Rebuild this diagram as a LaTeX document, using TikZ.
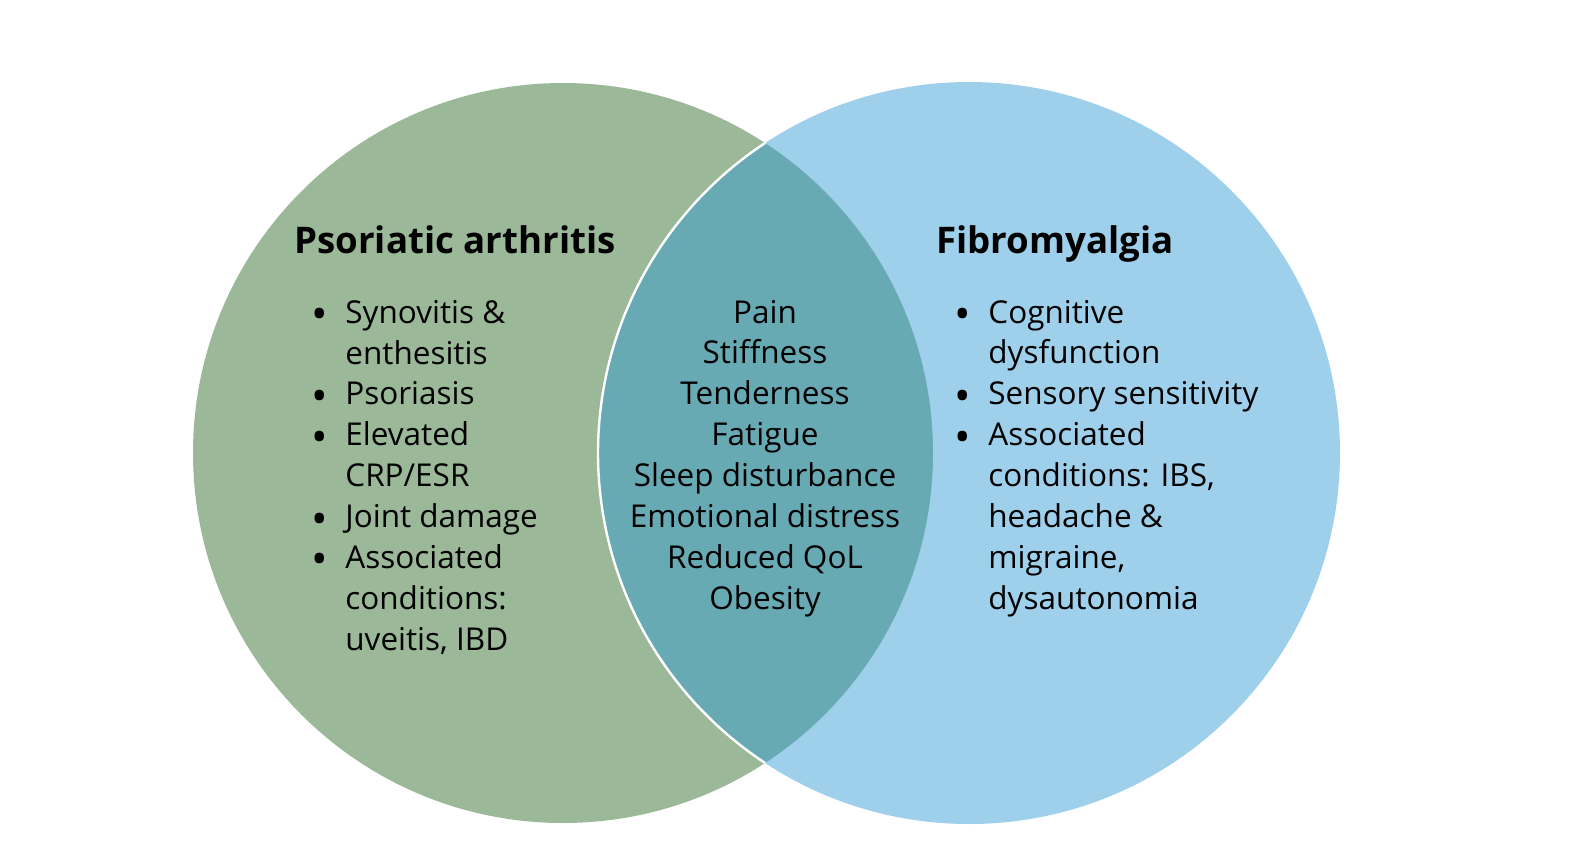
\documentclass[tikz,border=0pt]{standalone}
\usepackage{fontspec}
\setmainfont{Open Sans}
\usepackage{tikz}
\definecolor{psagreen}{HTML}{9BB898}
\definecolor{fmblue}{HTML}{9FD0EB}
\definecolor{lensteal}{HTML}{67AAB4}
\tikzset{
  heading/.style={anchor=base west, inner sep=0pt, font=\fontsize{18.4}{21}\selectfont\bfseries},
  listtext/.style={anchor=base west, inner sep=0pt, align=left, font=\fontsize{15.8}{20.5}\selectfont},
  midtext/.style={anchor=base, inner sep=0pt, align=center, font=\fontsize{15.8}{20.5}\selectfont}
}
\newcommand{\bul}{\llap{\raisebox{-3.3pt}{\fontsize{22}{0}\selectfont\textbullet}\hspace{8.8pt}}}
\begin{document}
\begin{tikzpicture}[x=0.5bp,y=-0.5bp]
\useasboundingbox (0,0) rectangle (1575,861);
% circles
\fill[psagreen] (563,453) circle (370);
\fill[fmblue] (969,453) circle (371);
\begin{scope}
\clip (563,453) circle (370);
\fill[lensteal] (969,453) circle (371);
\draw[white, line width=1.2pt] (969,453) circle (371);
\end{scope}
% headings
\node[heading] (psa) at (294,253) {Psoriatic arthritis};
\node[heading] (fm) at (936,253) {Fibromyalgia};
% lists (anchored at the baseline of the last line)
\node[listtext] (psalist) at (345,650) {\bul Synovitis \&\\ enthesitis\\ \bul Psoriasis\\ \bul Elevated\\ CRP/ESR\\ \bul Joint damage\\ \bul Associated\\ conditions:\\ uveitis, IBD};
\node[midtext] (shared) at (765,609) {Pain\\ Stiffness\\ Tenderness\\ Fatigue\\ Sleep disturbance\\ Emotional distress\\ Reduced QoL\\ Obesity};
\node[listtext] (fmlist) at (988,609) {\bul Cognitive\\ dysfunction\\ \bul Sensory sensitivity\\ \bul Associated\\ conditions: IBS,\\ headache \&\\ migraine,\\ dysautonomia};
\end{tikzpicture}
\end{document}
